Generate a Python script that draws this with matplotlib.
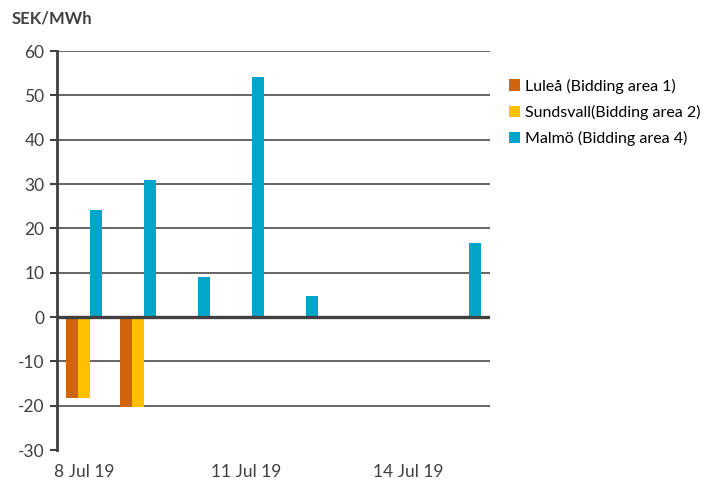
import matplotlib.pyplot as plt
import matplotlib as mpl
import numpy as np

mpl.rcParams['font.family'] = ['Lato', 'DejaVu Sans']
mpl.rcParams['font.size'] = 12
mpl.rcParams['axes.unicode_minus'] = False

# Data (SEK/MWh, daily average difference)
days = ['8 Jul 19', '9 Jul 19', '10 Jul 19', '11 Jul 19',
        '12 Jul 19', '13 Jul 19', '14 Jul 19', '15 Jul 19']
lulea = [-18.3, -20.2, 0, 0, 0, 0, 0, 0]
sundsvall = [-18.3, -20.2, 0, 0, 0, 0, 0, 0]
malmo = [24.2, 30.9, 9.1, 54.2, 4.7, 0, 0, 16.6]
series_names = ['Luleå (Bidding area 1)', 'Sundsvall(Bidding area 2)', 'Malmö (Bidding area 4)']
shown_ticks = ['8 Jul 19', '11 Jul 19', '14 Jul 19']

colors = ['#CF640C', '#FFC000', '#00A5CA']
grid_col = '#595959'

fig = plt.figure(figsize=(7.12, 4.86), dpi=100)
ax = fig.add_axes([0.080, 0.074, 0.608, 0.821])

x = np.arange(len(days))
w = 0.222
for i, (vals, col, name) in enumerate(zip([lulea, sundsvall, malmo], colors, series_names)):
    ax.bar(x + (i - 1) * w, vals, width=w, color=col, label=name, zorder=3)

ax.set_xlim(-0.5, len(days) - 0.5)
ax.set_ylim(-30, 60)
ax.set_yticks(range(-30, 61, 10))
for yv in range(-20, 61, 10):
    if yv == 0:
        continue
    ax.axhline(yv, color=grid_col, lw=1.3, zorder=1)
ax.axhline(0, color='#404040', lw=2.4, zorder=4)

ax.set_xticks([days.index(d) for d in shown_ticks])
ax.set_xticklabels(shown_ticks)
ax.tick_params(axis='x', length=0, pad=10, labelsize=12.5, colors='#404040')
ax.tick_params(axis='y', length=5, width=1.5, color='#404040', labelsize=12.5,
               labelcolor='#404040', pad=4)

for s in ['top', 'right', 'bottom']:
    ax.spines[s].set_visible(False)
ax.spines['left'].set_color('#404040')
ax.spines['left'].set_linewidth(2)

fig.text(0.017, 0.962, 'SEK/MWh', fontsize=12, fontweight='bold', color='#404040',
         ha='left', va='center')

fig.legend(loc='upper left', bbox_to_anchor=(0.695, 0.868), frameon=False,
           handlelength=0.7, handleheight=0.7, handletextpad=0.3,
           labelspacing=0.7, fontsize=11.5)

plt.savefig('out.png', dpi=100)
plt.close()
